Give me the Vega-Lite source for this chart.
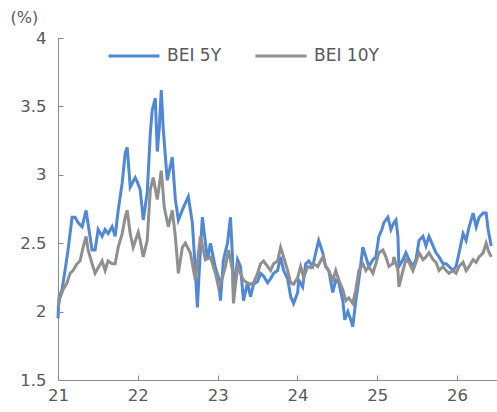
{
  "$schema": "https://vega.github.io/schema/vega-lite/v6.json",
  "width": 439,
  "height": 342,
  "autosize": {"type": "none"},
  "padding": {"left": 58, "top": 38, "right": 0, "bottom": 32},
  "background": "white",
  "config": {"view": {"stroke": null}, "font": "DejaVu Sans"},
  "data": {"values": [
    {"s":"BEI 5Y","t":21.0,"v":1.95},{"s":"BEI 5Y","t":21.012,"v":2.1},{"s":"BEI 5Y","t":21.05,"v":2.16},{"s":"BEI 5Y","t":21.088,"v":2.3},{"s":"BEI 5Y","t":21.126,"v":2.45},{"s":"BEI 5Y","t":21.176,"v":2.69},{"s":"BEI 5Y","t":21.214,"v":2.69},{"s":"BEI 5Y","t":21.251,"v":2.65},{"s":"BEI 5Y","t":21.302,"v":2.62},{"s":"BEI 5Y","t":21.352,"v":2.74},{"s":"BEI 5Y","t":21.377,"v":2.64},{"s":"BEI 5Y","t":21.427,"v":2.45},{"s":"BEI 5Y","t":21.465,"v":2.45},{"s":"BEI 5Y","t":21.503,"v":2.6},{"s":"BEI 5Y","t":21.553,"v":2.55},{"s":"BEI 5Y","t":21.59,"v":2.6},{"s":"BEI 5Y","t":21.628,"v":2.57},{"s":"BEI 5Y","t":21.678,"v":2.62},{"s":"BEI 5Y","t":21.716,"v":2.55},{"s":"BEI 5Y","t":21.754,"v":2.74},{"s":"BEI 5Y","t":21.804,"v":2.94},{"s":"BEI 5Y","t":21.842,"v":3.16},{"s":"BEI 5Y","t":21.867,"v":3.2},{"s":"BEI 5Y","t":21.905,"v":2.91},{"s":"BEI 5Y","t":21.967,"v":2.98},{"s":"BEI 5Y","t":21.992,"v":2.95},{"s":"BEI 5Y","t":22.03,"v":2.89},{"s":"BEI 5Y","t":22.068,"v":2.67},{"s":"BEI 5Y","t":22.118,"v":2.87},{"s":"BEI 5Y","t":22.156,"v":3.3},{"s":"BEI 5Y","t":22.18,"v":3.47},{"s":"BEI 5Y","t":22.219,"v":3.56},{"s":"BEI 5Y","t":22.244,"v":3.17},{"s":"BEI 5Y","t":22.27,"v":3.35},{"s":"BEI 5Y","t":22.294,"v":3.62},{"s":"BEI 5Y","t":22.319,"v":3.33},{"s":"BEI 5Y","t":22.369,"v":2.96},{"s":"BEI 5Y","t":22.432,"v":3.13},{"s":"BEI 5Y","t":22.47,"v":2.82},{"s":"BEI 5Y","t":22.508,"v":2.67},{"s":"BEI 5Y","t":22.57,"v":2.76},{"s":"BEI 5Y","t":22.633,"v":2.84},{"s":"BEI 5Y","t":22.683,"v":2.65},{"s":"BEI 5Y","t":22.721,"v":2.3},{"s":"BEI 5Y","t":22.746,"v":2.03},{"s":"BEI 5Y","t":22.784,"v":2.45},{"s":"BEI 5Y","t":22.809,"v":2.69},{"s":"BEI 5Y","t":22.872,"v":2.38},{"s":"BEI 5Y","t":22.91,"v":2.5},{"s":"BEI 5Y","t":22.972,"v":2.32},{"s":"BEI 5Y","t":23.01,"v":2.25},{"s":"BEI 5Y","t":23.035,"v":2.08},{"s":"BEI 5Y","t":23.073,"v":2.38},{"s":"BEI 5Y","t":23.123,"v":2.5},{"s":"BEI 5Y","t":23.161,"v":2.69},{"s":"BEI 5Y","t":23.186,"v":2.4},{"s":"BEI 5Y","t":23.198,"v":2.14},{"s":"BEI 5Y","t":23.249,"v":2.38},{"s":"BEI 5Y","t":23.286,"v":2.33},{"s":"BEI 5Y","t":23.324,"v":2.08},{"s":"BEI 5Y","t":23.374,"v":2.21},{"s":"BEI 5Y","t":23.412,"v":2.11},{"s":"BEI 5Y","t":23.45,"v":2.2},{"s":"BEI 5Y","t":23.5,"v":2.22},{"s":"BEI 5Y","t":23.538,"v":2.28},{"s":"BEI 5Y","t":23.575,"v":2.26},{"s":"BEI 5Y","t":23.626,"v":2.21},{"s":"BEI 5Y","t":23.663,"v":2.24},{"s":"BEI 5Y","t":23.701,"v":2.28},{"s":"BEI 5Y","t":23.751,"v":2.3},{"s":"BEI 5Y","t":23.789,"v":2.4},{"s":"BEI 5Y","t":23.827,"v":2.3},{"s":"BEI 5Y","t":23.877,"v":2.24},{"s":"BEI 5Y","t":23.915,"v":2.11},{"s":"BEI 5Y","t":23.952,"v":2.06},{"s":"BEI 5Y","t":24.003,"v":2.14},{"s":"BEI 5Y","t":24.015,"v":2.23},{"s":"BEI 5Y","t":24.065,"v":2.18},{"s":"BEI 5Y","t":24.103,"v":2.35},{"s":"BEI 5Y","t":24.141,"v":2.37},{"s":"BEI 5Y","t":24.191,"v":2.33},{"s":"BEI 5Y","t":24.229,"v":2.43},{"s":"BEI 5Y","t":24.266,"v":2.52},{"s":"BEI 5Y","t":24.317,"v":2.43},{"s":"BEI 5Y","t":24.354,"v":2.33},{"s":"BEI 5Y","t":24.392,"v":2.3},{"s":"BEI 5Y","t":24.442,"v":2.14},{"s":"BEI 5Y","t":24.48,"v":2.23},{"s":"BEI 5Y","t":24.518,"v":2.21},{"s":"BEI 5Y","t":24.568,"v":2.08},{"s":"BEI 5Y","t":24.593,"v":1.94},{"s":"BEI 5Y","t":24.631,"v":2.0},{"s":"BEI 5Y","t":24.668,"v":1.94},{"s":"BEI 5Y","t":24.693,"v":1.89},{"s":"BEI 5Y","t":24.731,"v":2.08},{"s":"BEI 5Y","t":24.769,"v":2.23},{"s":"BEI 5Y","t":24.819,"v":2.47},{"s":"BEI 5Y","t":24.857,"v":2.4},{"s":"BEI 5Y","t":24.894,"v":2.33},{"s":"BEI 5Y","t":24.945,"v":2.38},{"s":"BEI 5Y","t":24.982,"v":2.4},{"s":"BEI 5Y","t":25.02,"v":2.55},{"s":"BEI 5Y","t":25.058,"v":2.6},{"s":"BEI 5Y","t":25.083,"v":2.65},{"s":"BEI 5Y","t":25.133,"v":2.69},{"s":"BEI 5Y","t":25.171,"v":2.6},{"s":"BEI 5Y","t":25.208,"v":2.65},{"s":"BEI 5Y","t":25.234,"v":2.67},{"s":"BEI 5Y","t":25.259,"v":2.55},{"s":"BEI 5Y","t":25.271,"v":2.33},{"s":"BEI 5Y","t":25.322,"v":2.38},{"s":"BEI 5Y","t":25.359,"v":2.43},{"s":"BEI 5Y","t":25.397,"v":2.38},{"s":"BEI 5Y","t":25.447,"v":2.33},{"s":"BEI 5Y","t":25.485,"v":2.38},{"s":"BEI 5Y","t":25.523,"v":2.52},{"s":"BEI 5Y","t":25.573,"v":2.55},{"s":"BEI 5Y","t":25.61,"v":2.48},{"s":"BEI 5Y","t":25.648,"v":2.55},{"s":"BEI 5Y","t":25.698,"v":2.48},{"s":"BEI 5Y","t":25.736,"v":2.43},{"s":"BEI 5Y","t":25.774,"v":2.4},{"s":"BEI 5Y","t":25.824,"v":2.35},{"s":"BEI 5Y","t":25.862,"v":2.35},{"s":"BEI 5Y","t":25.899,"v":2.33},{"s":"BEI 5Y","t":25.95,"v":2.3},{"s":"BEI 5Y","t":25.987,"v":2.33},{"s":"BEI 5Y","t":26.025,"v":2.43},{"s":"BEI 5Y","t":26.075,"v":2.57},{"s":"BEI 5Y","t":26.113,"v":2.52},{"s":"BEI 5Y","t":26.151,"v":2.62},{"s":"BEI 5Y","t":26.201,"v":2.72},{"s":"BEI 5Y","t":26.239,"v":2.62},{"s":"BEI 5Y","t":26.276,"v":2.69},{"s":"BEI 5Y","t":26.327,"v":2.72},{"s":"BEI 5Y","t":26.364,"v":2.72},{"s":"BEI 5Y","t":26.389,"v":2.6},{"s":"BEI 5Y","t":26.427,"v":2.48},
    {"s":"BEI 10Y","t":21.0,"v":2.03},{"s":"BEI 10Y","t":21.025,"v":2.1},{"s":"BEI 10Y","t":21.063,"v":2.16},{"s":"BEI 10Y","t":21.113,"v":2.21},{"s":"BEI 10Y","t":21.151,"v":2.28},{"s":"BEI 10Y","t":21.188,"v":2.3},{"s":"BEI 10Y","t":21.239,"v":2.35},{"s":"BEI 10Y","t":21.276,"v":2.37},{"s":"BEI 10Y","t":21.314,"v":2.47},{"s":"BEI 10Y","t":21.352,"v":2.55},{"s":"BEI 10Y","t":21.377,"v":2.45},{"s":"BEI 10Y","t":21.427,"v":2.35},{"s":"BEI 10Y","t":21.465,"v":2.28},{"s":"BEI 10Y","t":21.503,"v":2.32},{"s":"BEI 10Y","t":21.553,"v":2.37},{"s":"BEI 10Y","t":21.59,"v":2.3},{"s":"BEI 10Y","t":21.628,"v":2.37},{"s":"BEI 10Y","t":21.678,"v":2.35},{"s":"BEI 10Y","t":21.716,"v":2.35},{"s":"BEI 10Y","t":21.754,"v":2.47},{"s":"BEI 10Y","t":21.804,"v":2.57},{"s":"BEI 10Y","t":21.842,"v":2.69},{"s":"BEI 10Y","t":21.867,"v":2.74},{"s":"BEI 10Y","t":21.905,"v":2.57},{"s":"BEI 10Y","t":21.942,"v":2.47},{"s":"BEI 10Y","t":22.005,"v":2.58},{"s":"BEI 10Y","t":22.03,"v":2.52},{"s":"BEI 10Y","t":22.068,"v":2.4},{"s":"BEI 10Y","t":22.118,"v":2.52},{"s":"BEI 10Y","t":22.156,"v":2.89},{"s":"BEI 10Y","t":22.193,"v":2.98},{"s":"BEI 10Y","t":22.244,"v":2.82},{"s":"BEI 10Y","t":22.294,"v":3.03},{"s":"BEI 10Y","t":22.332,"v":2.76},{"s":"BEI 10Y","t":22.382,"v":2.62},{"s":"BEI 10Y","t":22.432,"v":2.74},{"s":"BEI 10Y","t":22.47,"v":2.55},{"s":"BEI 10Y","t":22.508,"v":2.28},{"s":"BEI 10Y","t":22.558,"v":2.47},{"s":"BEI 10Y","t":22.595,"v":2.5},{"s":"BEI 10Y","t":22.658,"v":2.43},{"s":"BEI 10Y","t":22.721,"v":2.23},{"s":"BEI 10Y","t":22.784,"v":2.55},{"s":"BEI 10Y","t":22.847,"v":2.38},{"s":"BEI 10Y","t":22.91,"v":2.4},{"s":"BEI 10Y","t":22.972,"v":2.28},{"s":"BEI 10Y","t":23.01,"v":2.18},{"s":"BEI 10Y","t":23.06,"v":2.25},{"s":"BEI 10Y","t":23.098,"v":2.33},{"s":"BEI 10Y","t":23.136,"v":2.45},{"s":"BEI 10Y","t":23.186,"v":2.3},{"s":"BEI 10Y","t":23.198,"v":2.06},{"s":"BEI 10Y","t":23.249,"v":2.33},{"s":"BEI 10Y","t":23.286,"v":2.28},{"s":"BEI 10Y","t":23.324,"v":2.23},{"s":"BEI 10Y","t":23.374,"v":2.21},{"s":"BEI 10Y","t":23.412,"v":2.2},{"s":"BEI 10Y","t":23.45,"v":2.21},{"s":"BEI 10Y","t":23.5,"v":2.28},{"s":"BEI 10Y","t":23.538,"v":2.35},{"s":"BEI 10Y","t":23.575,"v":2.37},{"s":"BEI 10Y","t":23.626,"v":2.33},{"s":"BEI 10Y","t":23.663,"v":2.3},{"s":"BEI 10Y","t":23.701,"v":2.35},{"s":"BEI 10Y","t":23.751,"v":2.37},{"s":"BEI 10Y","t":23.789,"v":2.47},{"s":"BEI 10Y","t":23.827,"v":2.4},{"s":"BEI 10Y","t":23.877,"v":2.3},{"s":"BEI 10Y","t":23.915,"v":2.21},{"s":"BEI 10Y","t":23.952,"v":2.2},{"s":"BEI 10Y","t":24.003,"v":2.25},{"s":"BEI 10Y","t":24.04,"v":2.33},{"s":"BEI 10Y","t":24.078,"v":2.25},{"s":"BEI 10Y","t":24.128,"v":2.33},{"s":"BEI 10Y","t":24.166,"v":2.32},{"s":"BEI 10Y","t":24.204,"v":2.35},{"s":"BEI 10Y","t":24.254,"v":2.33},{"s":"BEI 10Y","t":24.317,"v":2.4},{"s":"BEI 10Y","t":24.354,"v":2.33},{"s":"BEI 10Y","t":24.392,"v":2.3},{"s":"BEI 10Y","t":24.442,"v":2.23},{"s":"BEI 10Y","t":24.48,"v":2.3},{"s":"BEI 10Y","t":24.518,"v":2.23},{"s":"BEI 10Y","t":24.568,"v":2.16},{"s":"BEI 10Y","t":24.606,"v":2.08},{"s":"BEI 10Y","t":24.643,"v":2.1},{"s":"BEI 10Y","t":24.693,"v":2.06},{"s":"BEI 10Y","t":24.731,"v":2.16},{"s":"BEI 10Y","t":24.769,"v":2.3},{"s":"BEI 10Y","t":24.819,"v":2.35},{"s":"BEI 10Y","t":24.857,"v":2.3},{"s":"BEI 10Y","t":24.894,"v":2.33},{"s":"BEI 10Y","t":24.945,"v":2.28},{"s":"BEI 10Y","t":24.982,"v":2.35},{"s":"BEI 10Y","t":25.02,"v":2.43},{"s":"BEI 10Y","t":25.07,"v":2.45},{"s":"BEI 10Y","t":25.108,"v":2.4},{"s":"BEI 10Y","t":25.146,"v":2.33},{"s":"BEI 10Y","t":25.196,"v":2.35},{"s":"BEI 10Y","t":25.208,"v":2.4},{"s":"BEI 10Y","t":25.259,"v":2.3},{"s":"BEI 10Y","t":25.271,"v":2.18},{"s":"BEI 10Y","t":25.322,"v":2.3},{"s":"BEI 10Y","t":25.359,"v":2.38},{"s":"BEI 10Y","t":25.397,"v":2.36},{"s":"BEI 10Y","t":25.447,"v":2.3},{"s":"BEI 10Y","t":25.485,"v":2.36},{"s":"BEI 10Y","t":25.523,"v":2.43},{"s":"BEI 10Y","t":25.573,"v":2.38},{"s":"BEI 10Y","t":25.61,"v":2.4},{"s":"BEI 10Y","t":25.648,"v":2.43},{"s":"BEI 10Y","t":25.698,"v":2.38},{"s":"BEI 10Y","t":25.736,"v":2.36},{"s":"BEI 10Y","t":25.774,"v":2.3},{"s":"BEI 10Y","t":25.824,"v":2.33},{"s":"BEI 10Y","t":25.862,"v":2.3},{"s":"BEI 10Y","t":25.899,"v":2.28},{"s":"BEI 10Y","t":25.95,"v":2.3},{"s":"BEI 10Y","t":25.987,"v":2.28},{"s":"BEI 10Y","t":26.025,"v":2.33},{"s":"BEI 10Y","t":26.075,"v":2.36},{"s":"BEI 10Y","t":26.113,"v":2.3},{"s":"BEI 10Y","t":26.151,"v":2.33},{"s":"BEI 10Y","t":26.201,"v":2.38},{"s":"BEI 10Y","t":26.239,"v":2.36},{"s":"BEI 10Y","t":26.276,"v":2.4},{"s":"BEI 10Y","t":26.327,"v":2.43},{"s":"BEI 10Y","t":26.364,"v":2.5},{"s":"BEI 10Y","t":26.389,"v":2.45},{"s":"BEI 10Y","t":26.427,"v":2.4}
  ]},
  "encoding": {
    "x": {"field": "t", "type": "quantitative",
      "scale": {"domain": [21, 26.5], "nice": false, "zero": false},
      "axis": {"values": [21, 22, 23, 24, 25, 26], "format": "d", "title": null, "grid": false, "labelFlush": false,
        "domainColor": "#8c8c8c", "tickColor": "#8c8c8c", "tickSize": -5,
        "labelFontSize": 16.5, "labelColor": "#595959", "labelPadding": 12, "labelFont": "DejaVu Sans"}},
    "y": {"field": "v", "type": "quantitative",
      "scale": {"domain": [1.5, 4], "nice": false, "zero": false},
      "axis": {"values": [1.5, 2, 2.5, 3, 3.5, 4], "format": "~g", "grid": false, "labelFlush": false,
        "domainColor": "#8c8c8c", "tickColor": "#8c8c8c", "tickSize": -5,
        "labelFontSize": 16.5, "labelColor": "#595959", "labelPadding": 17, "labelFont": "DejaVu Sans",
        "title": "(%)", "titleAngle": 0, "titleAlign": "left", "titleBaseline": "middle",
        "titleX": -48, "titleY": -21, "titleFontSize": 16, "titleFontWeight": "normal",
        "titleColor": "#595959", "titleFont": "DejaVu Sans"}},
    "color": {"field": "s", "type": "nominal",
      "scale": {"domain": ["BEI 5Y", "BEI 10Y"], "range": ["#4f88d6", "#8f8f8f"]},
      "legend": {"title": null, "orient": "none", "legendX": 49, "legendY": -9, "direction": "horizontal",
        "symbolType": "stroke", "symbolSize": 2601, "symbolStrokeWidth": 3,
        "labelFontSize": 17, "labelColor": "#595959", "labelOffset": 6, "columnPadding": 27,
        "labelFont": "DejaVu Sans"}}
  },
  "layer": [
    {"transform": [{"filter": "datum.s === 'BEI 5Y'"}], "mark": {"type": "line", "strokeWidth": 3}},
    {"transform": [{"filter": "datum.s === 'BEI 10Y'"}], "mark": {"type": "line", "strokeWidth": 3}}
  ]
}
